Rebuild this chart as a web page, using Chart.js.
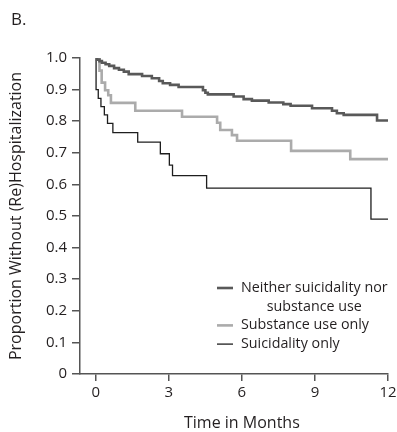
<!DOCTYPE html>
<html>
<head>
<meta charset="utf-8">
<script src="https://cdn.jsdelivr.net/npm/chart.js@4.4.1/dist/chart.umd.min.js"></script>
<style>
  html, body { margin: 0; padding: 0; background: #fff; }
  #caixa { width: 397px; height: 432px; }
</style>
</head>
<body>
<div id="caixa"><canvas id="grafico" width="397" height="432"></canvas></div>
<script>
// curvas de Kaplan-Meier (tempo em meses, proporcao)
const mesesNenhum = [0, 0.05, 0.15, 0.25, 0.4, 0.55, 0.75, 0.95, 1.15, 1.35, 1.9, 2.3, 2.6, 2.75, 3.05, 3.4, 4.4, 4.5, 4.6, 5.66, 6.07, 6.41, 7.1, 7.7, 8.0, 8.88, 9.7, 9.9, 10.18, 11.55, 12];
const propNenhum = [1.0, 0.995, 0.99, 0.985, 0.98, 0.975, 0.968, 0.963, 0.957, 0.949, 0.943, 0.936, 0.927, 0.92, 0.915, 0.908, 0.898, 0.89, 0.885, 0.878, 0.87, 0.865, 0.859, 0.854, 0.849, 0.841, 0.833, 0.825, 0.82, 0.802, 0.802];

const mesesSubst = [0, 0.15, 0.24, 0.38, 0.51, 0.62, 1.62, 3.54, 4.98, 5.11, 5.59, 5.8, 8.02, 10.45, 12];
const propSubst = [1.0, 0.96, 0.922, 0.898, 0.882, 0.858, 0.833, 0.814, 0.795, 0.772, 0.756, 0.738, 0.706, 0.68, 0.68];

const mesesSuic = [0, 0.01, 0.1, 0.21, 0.35, 0.48, 0.7, 1.72, 2.65, 3.02, 3.15, 4.55, 11.3, 12];
const propSuic = [1.0, 0.9, 0.872, 0.846, 0.82, 0.793, 0.764, 0.734, 0.697, 0.661, 0.628, 0.588, 0.49, 0.49];

const ticksX = [0, 3, 6, 9, 12];
const ticksY = [0, 0.1, 0.2, 0.3, 0.4, 0.5, 0.6, 0.7, 0.8, 0.9, 1.0];

const nomesSeries = [
    ['Neither suicidality nor', 'substance use'],
    ['Substance use only'],
    ['Suicidality only']
];

const fonte = '"Open Sans", sans-serif';
const corTexto = '#231f20';

function pontos(tempos, valores) {
    return tempos.map((t, i) => ({ x: t, y: valores[i] }));
}

// legenda, letra do painel e titulo do eixo x desenhados a mao
const extras = {
    id: 'extras',
    afterDraw(chart) {
        const ctx = chart.ctx;
        const area = chart.chartArea;
        ctx.save();

        // "B."
        ctx.fillStyle = corTexto;
        ctx.font = '17px ' + fonte;
        ctx.textAlign = 'left';
        ctx.textBaseline = 'middle';
        ctx.fillText('B.', 11, 20);

        // titulo do eixo x, centrado no intervalo 0-12
        ctx.font = '16px ' + fonte;
        ctx.textAlign = 'center';
        ctx.fillText('Time in Months', chart.scales.x.getPixelForValue(6), 423);

        // legenda
        ctx.font = '14.3px ' + fonte;
        let y = area.bottom - 86;
        const xLinha = area.right - 171;
        const xTexto = area.right - 147;
        chart.data.datasets.forEach((ds, i) => {
            const linhas = nomesSeries[i];
            ctx.strokeStyle = ds.borderColor;
            ctx.lineWidth = ds.borderWidth;
            ctx.beginPath();
            ctx.moveTo(xLinha, y);
            ctx.lineTo(xLinha + 16, y);
            ctx.stroke();
            const larg = ctx.measureText(linhas[0]).width;
            linhas.forEach((txt, j) => {
                if (j == 0) {
                    ctx.textAlign = 'left';
                    ctx.fillText(txt, xTexto, y);
                } else {
                    ctx.textAlign = 'center';
                    ctx.fillText(txt, xTexto + larg / 2, y + 18.7 * j);
                }
            });
            y += 18.7 * linhas.length;
        });
        ctx.restore();
    }
};

const dados = {
    datasets: [
        {
            label: 'Neither suicidality nor substance use',
            data: pontos(mesesNenhum, propNenhum),
            borderColor: '#595959',
            borderWidth: 2.6,
            stepped: 'before'
        },
        {
            label: 'Substance use only',
            data: pontos(mesesSubst, propSubst),
            borderColor: '#ababab',
            borderWidth: 2.6,
            stepped: 'before'
        },
        {
            label: 'Suicidality only',
            data: pontos(mesesSuic, propSuic),
            borderColor: '#1e1e1e',
            borderWidth: 1.3,
            stepped: 'before'
        }
    ]
};

const config = {
    type: 'line',
    data: dados,
    options: {
        responsive: false,
        animation: false,
        devicePixelRatio: 1,
        layout: { padding: { top: 58, right: 9, left: 0, bottom: 0 } },
        elements: { point: { radius: 0 } },
        plugins: {
            legend: { display: false },
            tooltip: { enabled: false }
        },
        scales: {
            x: {
                type: 'linear',
                min: -0.65,
                max: 12,
                afterBuildTicks: s => { s.ticks = ticksX.map(v => ({ value: v })); },
                afterFit: s => {
                    s.height = 58;
                    s.paddingLeft = 0;
                    s.paddingRight = 0;
                },
                grid: { display: true, drawOnChartArea: false, drawTicks: true, tickLength: 7, color: '#555', lineWidth: 1.5 },
                border: { display: true, color: '#555', width: 1.5 },
                ticks: { color: corTexto, font: { family: fonte, size: 15 }, padding: 3, maxRotation: 0, autoSkip: false }
            },
            y: {
                min: 0,
                max: 1,
                afterBuildTicks: s => { s.ticks = ticksY.map(v => ({ value: v })); },
                afterFit: s => {
                    s.width = 80;
                    s.paddingTop = 0;
                    s.paddingBottom = 0;
                },
                grid: { display: true, drawOnChartArea: false, drawTicks: true, tickLength: 8, color: '#555', lineWidth: 1.5 },
                border: { display: true, color: '#555', width: 1.5 },
                ticks: {
                    color: corTexto,
                    font: { family: fonte, size: 15 },
                    padding: 5,
                    autoSkip: false,
                    callback: v => v === 0 ? '0' : v.toFixed(1)
                },
                title: {
                    display: true,
                    text: 'Proportion Without (Re)Hospitalization',
                    color: corTexto,
                    font: { family: fonte, size: 16 },
                    padding: { top: 7, bottom: 0 }
                }
            }
        }
    },
    plugins: [extras]
};

let myChart = new Chart(document.getElementById('grafico'), config);
</script>
</body>
</html>
